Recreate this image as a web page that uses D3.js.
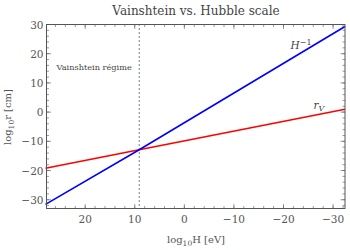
<!DOCTYPE html>
<html>
<head>
<meta charset="utf-8">
<script src="https://cdn.jsdelivr.net/npm/d3@7"></script>
<style>
  body { margin: 0; background: #fff; }
</style>
</head>
<body>
<div id="chart"></div>
<script>
// values
var logH = [28, 9.1, -32.4];
var hubble = [-31.6, -12.9, 29.3];      // log10 H^-1 [cm]
var vainshtein = [-19.2, -12.9, 1.0];   // log10 r_V [cm]
var xTicks = [20, 10, 0, -10, -20, -30];
var yTicks = [-30, -20, -10, 0, 10, 20, 30];
var vainshteinH = 9.1;

var W = 350, H = 250;
var margin = {top: 24.5, right: 5, bottom: 41.5, left: 46.5},
    width = W - margin.left - margin.right,
    height = H - margin.top - margin.bottom;

var svg = d3.select("#chart")
    .append("svg")
    .attr("width", W)
    .attr("height", H)
    .attr("font-family", "'DejaVu Serif', serif");

var g = svg.append("g")
    .attr("transform", "translate(" + margin.left + "," + margin.top + ")");

var x = d3.scaleLinear().domain([27.8, -32.4]).range([0, width]);
var y = d3.scaleLinear().domain([-33, 30]).range([height, 0]);

var fmt = function(d) { return d < 0 ? "\u2212" + Math.abs(d) : "" + d; };
var frameCol = "#555";

// minor and major ticks on all four sides (inward)
var xMinor = d3.range(-32, 28, 2);
var yMinor = d3.range(-32, 31, 2);

function ticksX(vals, len) {
  vals.forEach(function(v) {
    g.append("line").attr("x1", x(v)).attr("x2", x(v)).attr("y1", height).attr("y2", height - len)
      .attr("stroke", frameCol).attr("stroke-width", 0.6);
    g.append("line").attr("x1", x(v)).attr("x2", x(v)).attr("y1", 0).attr("y2", len)
      .attr("stroke", frameCol).attr("stroke-width", 0.6);
  });
}
function ticksY(vals, len) {
  vals.forEach(function(v) {
    g.append("line").attr("y1", y(v)).attr("y2", y(v)).attr("x1", 0).attr("x2", len)
      .attr("stroke", frameCol).attr("stroke-width", 0.6);
    g.append("line").attr("y1", y(v)).attr("y2", y(v)).attr("x1", width).attr("x2", width - len)
      .attr("stroke", frameCol).attr("stroke-width", 0.6);
  });
}
ticksX(xMinor, 2.5);
ticksX(xTicks, 4.5);
ticksY(yMinor, 2.5);
ticksY(yTicks, 4.5);

// tick labels
g.selectAll(".xl").data(xTicks).enter().append("text")
    .attr("x", function(d) { return x(d); })
    .attr("y", height + 14)
    .attr("text-anchor", "middle")
    .attr("font-size", 10.5)
    .attr("fill", "#555")
    .text(fmt);

g.selectAll(".yl").data(yTicks).enter().append("text")
    .attr("x", -3)
    .attr("y", function(d) { return y(d) + 4; })
    .attr("text-anchor", "end")
    .attr("font-size", 10.5)
    .attr("fill", "#555")
    .text(fmt);

// dotted vertical line
g.append("line")
    .attr("x1", x(vainshteinH)).attr("x2", x(vainshteinH))
    .attr("y1", 0).attr("y2", height)
    .attr("stroke", "#000").attr("stroke-width", 1)
    .attr("stroke-dasharray", "1,3");

var line = d3.line()
    .x(function(d) { return x(d[0]); })
    .y(function(d) { return y(d[1]); });

g.append("path")
    .datum(d3.zip(logH, vainshtein))
    .attr("d", line)
    .attr("fill", "none").attr("stroke", "#ff0000").attr("stroke-width", 1.6);

g.append("path")
    .datum(d3.zip(logH, hubble))
    .attr("d", line)
    .attr("fill", "none").attr("stroke", "#0000ff").attr("stroke-width", 1.6);

// frame
g.append("rect")
    .attr("width", width).attr("height", height)
    .attr("fill", "none").attr("stroke", frameCol).attr("stroke-width", 1);

// annotations
g.append("text")
    .attr("x", 10).attr("y", 45)
    .attr("font-size", 8.2).attr("fill", "#444")
    .text("Vainshtein régime");

var hl = g.append("text")
    .attr("x", 244).attr("y", 24)
    .attr("font-size", 10.5).attr("font-style", "italic").attr("fill", "#444");
hl.append("tspan").text("H");
hl.append("tspan").attr("dy", -4).attr("font-size", 8).attr("font-style", "normal").text("\u22121");

var rl = g.append("text")
    .attr("x", 267).attr("y", 84)
    .attr("font-size", 10.5).attr("font-style", "italic").attr("fill", "#444");
rl.append("tspan").text("r");
rl.append("tspan").attr("dy", 2.5).attr("font-size", 8).text("V");

// title and axis labels
svg.append("text")
    .attr("x", 196).attr("y", 15)
    .attr("text-anchor", "middle")
    .attr("font-size", 12).attr("fill", "#444")
    .text("Vainshtein vs. Hubble scale");

var xl = svg.append("text")
    .attr("x", 196).attr("y", 243)
    .attr("text-anchor", "middle")
    .attr("font-size", 10).attr("fill", "#555");
xl.append("tspan").text("log");
xl.append("tspan").attr("font-size", 7.5).attr("dy", 2.5).text("10");
xl.append("tspan").attr("dy", -2.5).text("H [eV]");

var yl = svg.append("text")
    .attr("transform", "translate(11,117) rotate(-90)")
    .attr("text-anchor", "middle")
    .attr("font-size", 10).attr("fill", "#555");
yl.append("tspan").text("log");
yl.append("tspan").attr("font-size", 7.5).attr("dy", 2.5).text("10");
yl.append("tspan").attr("dy", -2.5).text("r [cm]");
</script>
</body>
</html>
